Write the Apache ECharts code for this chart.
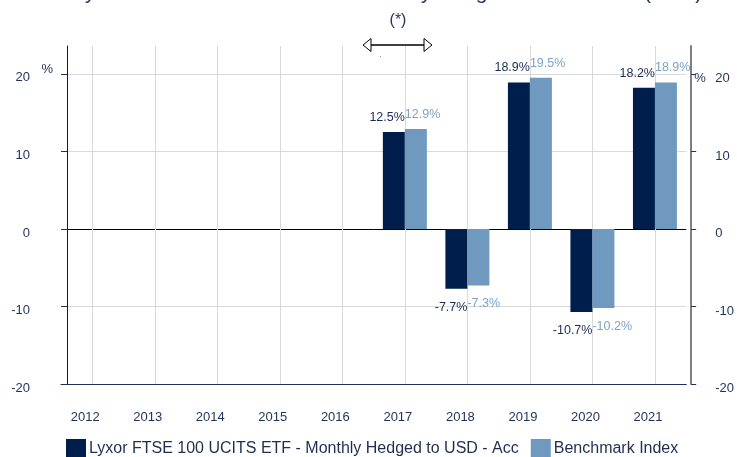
<!DOCTYPE html>
<html>
<head>
<meta charset="utf-8">
<script src="https://cdn.jsdelivr.net/npm/echarts@6/dist/echarts.min.js"></script>
<style>
  html, body { margin: 0; padding: 0; background: #fff; }
  #chart { width: 737px; height: 457px; }
</style>
</head>
<body>
<div id="chart"></div>
<script>
// data
const years = ["2012", "2013", "2014", "2015", "2016", "2017", "2018", "2019", "2020", "2021"];
const fundValues = [null, null, null, null, null, 12.5, -7.7, 18.9, -10.7, 18.2];
const benchValues = [null, null, null, null, null, 12.9, -7.3, 19.5, -10.2, 18.9];
const seriesNames = ["Lyxor FTSE 100 UCITS ETF - Monthly Hedged to USD - Acc", "Benchmark Index"];
const yTicks = [-20, -10, 0, 10, 20];
const titleText = "Lyxor FTSE 100 UCITS ETF - Monthly Hedged to USD - Acc (USD)";

const navy = "#001e4b";
const lightBlue = "#7099c0";
const textNavy = "#1f3158";
const font = "Liberation Sans";

// half-step positions so grid lines can sit on the category centres
const halfSteps = [];
years.forEach((y) => {
    halfSteps.push("");
    halfSteps.push(y);
});
halfSteps.push("");

function barData(values, dark) {
    return values.map((v) => {
        if (v === null) return null;
        return {
            value: v,
            label: {
                position: v < 0 ? "bottom" : "top",
                distance: v < 0 ? 12 : 8,
                align: dark ? "right" : "left",
                offset: dark ? [11, 0] : [-11, 0],
            },
        };
    });
}

let myChart = echarts.init(document.getElementById("chart"));
myChart.setOption({
    animation: false,
    textStyle: { fontFamily: font },
    grid: { left: 61, right: 49, top: 46, bottom: 73 },
    graphic: [
        {
            type: "text",
            left: 74,
            top: -17,
            style: { text: titleText, font: "21px " + font, fill: "#1f3564" },
        },
        {
            type: "text",
            x: 398,
            y: 21,
            style: { text: "(*)", font: "16px " + font, fill: "#1f3564", align: "center", verticalAlign: "middle" },
        },
        {
            type: "line",
            shape: { x1: 371, y1: 45, x2: 424, y2: 45 },
            style: { stroke: "#000", lineWidth: 1.5 },
        },
        {
            type: "polygon",
            shape: { points: [[363, 45], [371, 38.5], [371, 51.5]] },
            style: { fill: "#fff", stroke: "#000", lineWidth: 1 },
        },
        {
            type: "polygon",
            shape: { points: [[432, 45], [424, 38.5], [424, 51.5]] },
            style: { fill: "#fff", stroke: "#000", lineWidth: 1 },
        },
        {
            type: "rect",
            shape: { x: 380, y: 56, width: 1, height: 1 },
            style: { fill: "#888" },
        },
    ],
    legend: {
        data: seriesNames,
        left: 66,
        top: 439,
        padding: 0,
        itemWidth: 20,
        itemHeight: 20,
        itemGap: 12,
        icon: "rect",
        textStyle: { color: "#1f2d50", fontSize: 16, fontFamily: font, padding: [0, 0, 0, -2] },
    },
    xAxis: [
        {
            type: "category",
            data: years,
            axisLine: { onZero: false, lineStyle: { color: "#1f3158", width: 1 } },
            axisTick: { show: false },
            axisLabel: {
                color: textNavy,
                fontSize: 13,
                margin: 27,
                padding: [0, 14, 0, 0],
            },
            splitLine: { show: false },
        },
        {
            type: "category",
            data: halfSteps,
            boundaryGap: false,
            position: "bottom",
            axisLine: { show: false },
            axisTick: { show: false },
            axisLabel: { show: false },
            splitLine: {
                show: true,
                interval: (i) => i % 2 === 1,
                lineStyle: { color: "#d9d9d9", width: 1 },
            },
        },
    ],
    yAxis: [
        {
            type: "value",
            min: -20,
            max: 23.6,
            interval: 10,
            offset: -6,
            axisLine: { show: true, lineStyle: { color: "#1a1a1a", width: 1 } },
            axisTick: { show: true, length: 6, lineStyle: { color: "#1f3158" }, customValues: yTicks },
            axisLabel: {
                customValues: yTicks,
                margin: 14,
                formatter: (v) => (v === 20 ? "{a|" + v + "}{p|%}" : "{a|" + v + "}{p| }"),
                rich: {
                    a: { color: textNavy, fontSize: 13, fontFamily: font, padding: [8, 0, 0, 0] },
                    p: { color: textNavy, fontSize: 13, fontFamily: font, width: 23, align: "right", padding: [0, 0, 8, 0] },
                },
            },
            splitLine: {
                show: true,
                lineStyle: { color: ["#1f3158", "#d9d9d9", "#000", "#d9d9d9", "#d9d9d9", "transparent"], width: 1 },
            },
        },
        {
            type: "value",
            min: -20,
            max: 23.6,
            interval: 10,
            position: "right",
            offset: 5,
            axisLine: { show: true, lineStyle: { color: "#808080", width: 2 } },
            axisTick: { show: true, length: 5, lineStyle: { color: "#1f3158" }, customValues: yTicks },
            axisLabel: {
                customValues: yTicks,
                margin: 3,
                formatter: (v) => (v === 20 ? "{p|%}{a|" + v + "}" : "{p| }{a|" + v + "}"),
                rich: {
                    a: { color: textNavy, fontSize: 13, fontFamily: font, padding: [9, 0, 0, 0] },
                    p: { color: textNavy, fontSize: 13, fontFamily: font, width: 21, align: "left", padding: [9, 0, 0, 0] },
                },
            },
            splitLine: { show: false },
        },
    ],
    series: [
        {
            type: "bar",
            name: seriesNames[0],
            data: barData(fundValues, true),
            barWidth: 22,
            barGap: "0%",
            itemStyle: { color: navy },
            label: {
                show: true,
                color: "#1b2d55",
                fontSize: 12.5,
                fontFamily: font,
                formatter: (p) => p.value.toFixed(1) + "%",
            },
        },
        {
            type: "bar",
            name: seriesNames[1],
            data: barData(benchValues, false),
            barWidth: 22,
            barGap: "0%",
            itemStyle: { color: lightBlue },
            label: {
                show: true,
                color: "#7da2c8",
                fontSize: 12.5,
                fontFamily: font,
                formatter: (p) => p.value.toFixed(1) + "%",
            },
        },
    ],
});
</script>
</body>
</html>
